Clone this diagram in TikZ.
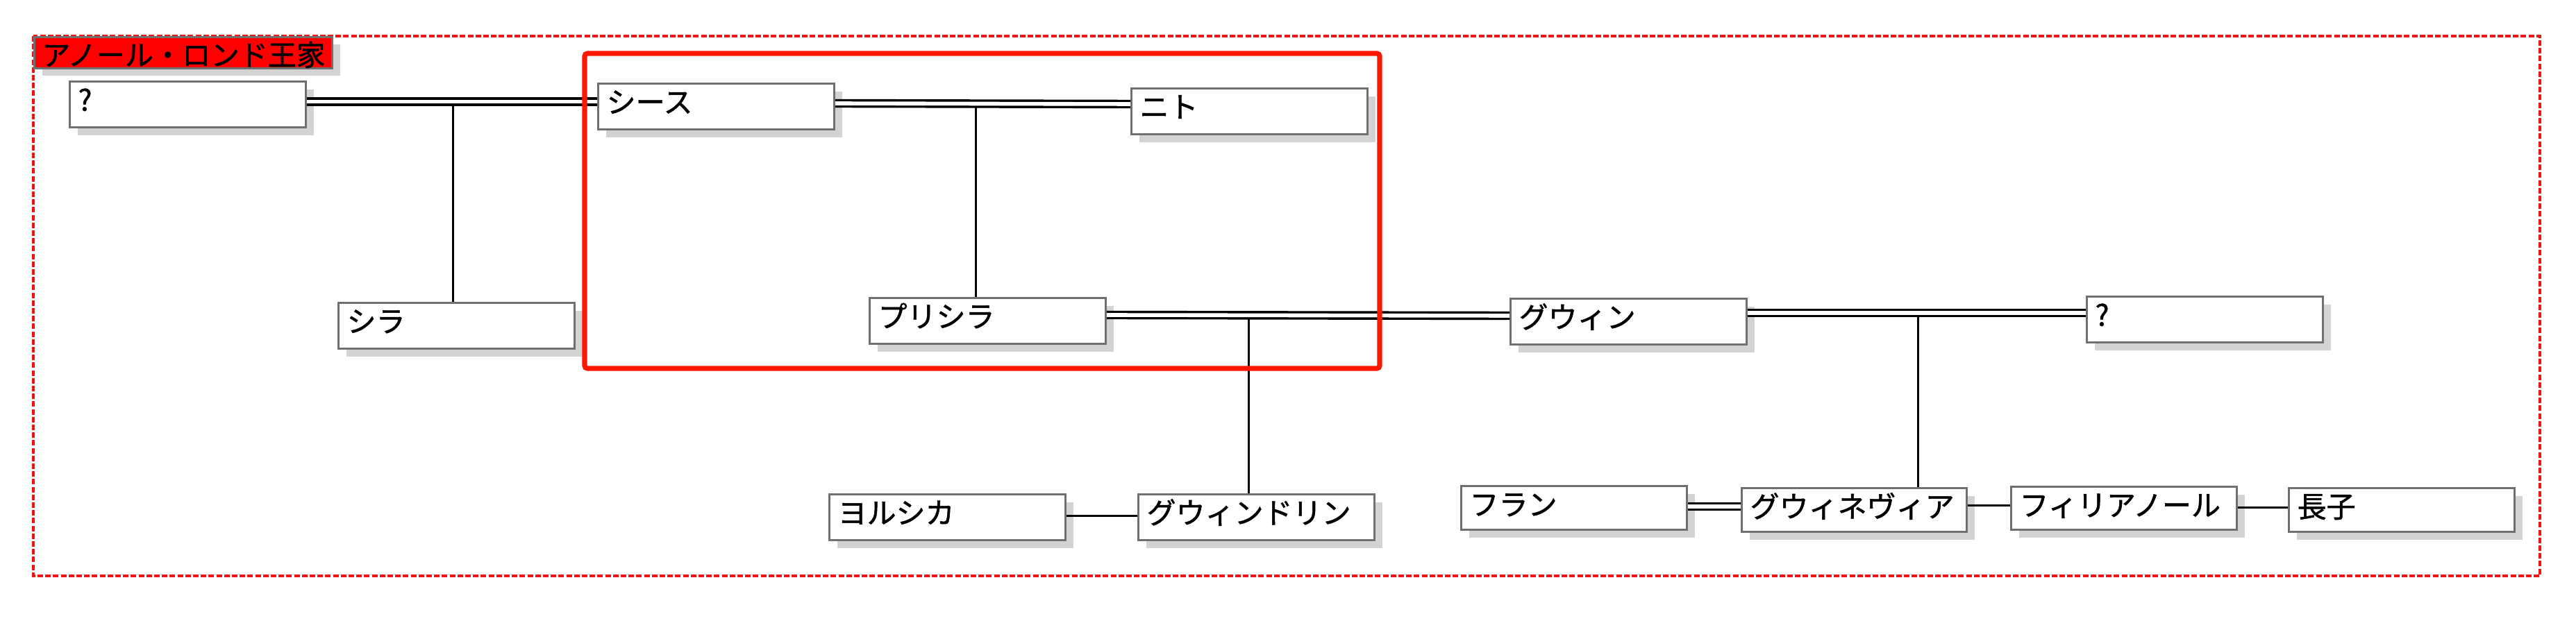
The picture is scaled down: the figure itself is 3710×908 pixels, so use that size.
\documentclass[tikz,border=0pt]{standalone}
\usepackage{fontspec}
\setmainfont{Noto Sans CJK JP}[FakeBold=1.2,BoldFont=Noto Sans CJK JP]
\usetikzlibrary{shadows}
\definecolor{hlred}{RGB}{250,25,0}
\definecolor{framered}{RGB}{240,20,20}
\definecolor{boxline}{RGB}{112,112,112}
\definecolor{shadowgray}{RGB}{211,211,211}
\tikzset{
  person/.style={draw=boxline, line width=0.8pt, fill=white, anchor=north west,
    inner xsep=3pt, inner ysep=0pt, text height=10.5pt, text depth=6pt,
    align=left, text width=#1, font=\fontsize{10.5}{12}\selectfont\bfseries,
    drop shadow={shadow xshift=2.75pt, shadow yshift=-2.75pt, fill=shadowgray, opacity=1}},
  person/.default=79pt,
  titlebox/.style={draw=boxline, line width=0.8pt, fill=red, anchor=north west,
    inner sep=0pt, minimum width=107.25pt, minimum height=11.25pt,
    text height=10.25pt, text depth=1pt, font=\fontsize{10.3}{12}\selectfont\bfseries,
    drop shadow={shadow xshift=2.75pt, shadow yshift=-2.5pt, fill=shadowgray, opacity=1}},
  kin/.style={line width=0.75pt, black},
  wed/.style={line width=0.85pt, double=white, double distance=1.4pt, black},
  groupframe/.style={framered, line width=0.8pt, dash pattern=on 2pt off 0.8pt},
  highlight/.style={hlred, line width=1.8pt, rounded corners=1pt},
}
\begin{document}
\begin{tikzpicture}[x=0.25pt, y=-0.25pt]
\useasboundingbox (0,0) rectangle (3710,908);

% group frame
\draw[groupframe] (48,52) rectangle (3658,830);

% persons
\node[person] (q1) at (99,116) {?};
\node[person] (sees) at (860,119) {シース};
\node[person] (nito) at (1628,126) {ニト};
\node[person] (sira) at (486,435) {シラ};
\node[person] (pris) at (1251,428) {プリシラ};
\node[person] (gwyn) at (2174,429) {グウィン};
\node[person] (q2) at (3004,426) {?};
\node[person] (yor) at (1193,711) {ヨルシカ};
\node[person] (gwyndolin) at (1638,711) {グウィンドリン};
\node[person=75.25pt, text depth=5.25pt] (fran) at (2103,699) {フラン};
\node[person=75pt, text depth=5.25pt] (gwynevere) at (2507,702) {グウィネヴィア};
\node[person=75.25pt, text depth=5pt] (fili) at (2895,700) {フィリアノール};
\node[person=75.25pt, text depth=5.25pt] (son) at (3295,702) {長子};

% child lines
\coordinate (m1) at (652,146.5);
\coordinate (m2) at (1405,149.5);
\coordinate (m3) at (1798,454.5);
\coordinate (m4) at (2762,451);
\draw[kin] (m1) -- (m1 |- sira.north);
\draw[kin] (m2) -- (m2 |- pris.north);
\draw[kin] (m3) -- (m3 |- gwyndolin.north);
\draw[kin] (m4) -- (m4 |- gwynevere.north);

% marriages
\draw[wed] ([yshift=-7.625pt]q1.north east) -- ([yshift=-6.875pt]sees.north west);
\draw[wed] ([yshift=-7.5pt]sees.north east) -- ([yshift=-6pt]nito.north west);
\draw[wed] ([yshift=-6.5pt]pris.north east) -- ([yshift=-6.5pt]gwyn.north west);
\draw[wed] ([yshift=-5.5pt]gwyn.north east) -- ([yshift=-6.25pt]q2.north west);
\draw[wed] ([yshift=-7.75pt]fran.north east) -- ([yshift=-7pt]gwynevere.north west);

% sibling links
\draw[kin] ([yshift=-8pt]yor.north east) -- ([yshift=-8pt]gwyndolin.north west);
\draw[kin] ([yshift=-6.5pt]gwynevere.north east) -- ([yshift=-7pt]fili.north west);
\draw[kin] ([yshift=-7.75pt]fili.north east) -- ([yshift=-7.25pt]son.north west);

% title
\node[titlebox] (title) at (48,52) {アノール・ロンド王家};

% highlight
\draw[highlight] (842,77) rectangle (1987,531);
\end{tikzpicture}
\end{document}
